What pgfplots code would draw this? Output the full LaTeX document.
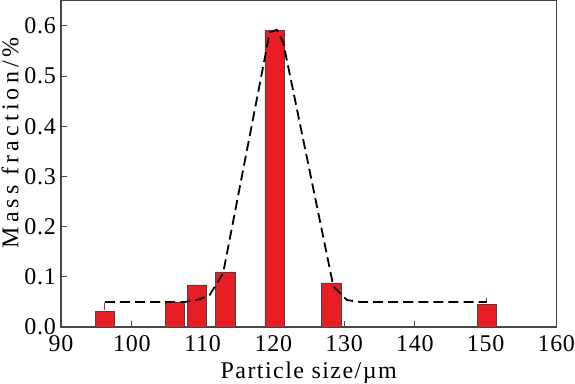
\documentclass[border=0pt]{standalone}
\usepackage{pgfplots}
\pgfplotsset{compat=1.18}
\usepackage{fontspec}
\setmainfont{Liberation Serif}[LetterSpace=3]
\newfontfamily\xlabfont{Liberation Serif}[LetterSpace=6]
\newfontfamily\ylabfont{Liberation Serif}[LetterSpace=17]
\definecolor{barred}{RGB}{232,30,36}
\definecolor{frame}{RGB}{70,70,70}
\begin{document}
\begin{tikzpicture}
\begin{axis}[
  scale only axis,
  width=493bp, height=325bp,
  xmin=90, xmax=160, ymin=0, ymax=0.65,
  xtick={90,100,...,160},
  ytick={0,0.1,...,0.6},
  yticklabel style={inner sep=0pt, xshift=-5bp, /pgf/number format/.cd,fixed,fixed zerofill,precision=1},
  /pgf/number format/assume math mode=true,
  tick align=inside,
  xtick pos=bottom, ytick pos=left,
  major tick length=6bp,
  tick style={frame, line width=1pt},
  axis line style={frame, line width=1.4pt},
  ticklabel style={font=\fontsize{24}{27}\selectfont},
  xticklabel style={inner sep=0pt, yshift=-8.5bp},
  xlabel={\xlabfont Particle size/\textmu m},
  ylabel={\ylabfont Mass fraction/\%},
  xlabel style={font=\fontsize{24}{27}\selectfont, inner sep=0pt, at={(axis description cs:0.5,0)}, anchor=base, yshift=-51bp},
  ylabel style={font=\fontsize{24}{27}\selectfont, inner sep=1.5bp, at={(axis description cs:0,0.565)}, anchor=north, yshift=61bp},
]
\addplot[ybar, bar width=2.75, fill=barred, draw=frame, line width=0.7pt]
 coordinates {(96.2,0.031)(106.1,0.049)(109.2,0.084)(113.2,0.110)(120.2,0.591)(128.2,0.088)(150.2,0.046)};
\addplot[magenta, line width=1pt] coordinates {(96.2,0.034)(96.2,0.048)};
\addplot[magenta, line width=1pt] coordinates {(150.2,0.049)(150.2,0.058)};
\addplot[black, line width=1.8pt, dash pattern=on 10bp off 5bp]
 coordinates {(96.2,0.050)(107.5,0.050)(109.5,0.055)(111.0,0.064)(112.9,0.107)(119.5,0.587)(120.5,0.592)(121.4,0.567)(128.5,0.081)(130.4,0.054)(132.3,0.050)(150.2,0.050)};
\end{axis}
\end{tikzpicture}
\end{document}
